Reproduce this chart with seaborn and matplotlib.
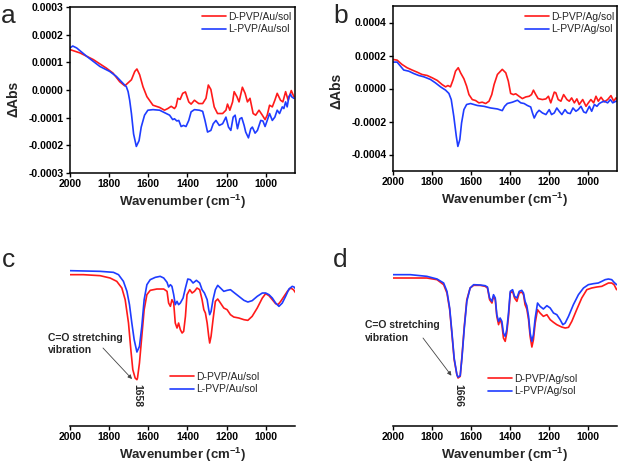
import numpy as np
import pandas as pd
import matplotlib
matplotlib.use("Agg")
import matplotlib.pyplot as plt
import seaborn as sns

# ---------------- data ----------------
# panel a (dAbs, x1e-4)
wn_a_d = [2000,1949,1881,1814,1780,1746,1720,1686,1669,1658,1644,1627,1607,1576,1542,1517,1500,1483,1466,1458,
          1449,1437,1424,1410,1393,1381,1364,1342,1322,1305,1293,1280,1263,1246,1220,1203,1195,1183,1169,1161,
          1147,1136,1119,1105,1093,1080,1064,1051,1034,1017,1003,992,980,966,953,941,924,912,898,885,869,856]
abs_a_d = [1.46,1.34,1.10,0.79,0.61,0.30,0.15,0.37,0.67,0.76,0.55,0.12,-0.24,-0.55,-0.63,-0.73,-0.67,-0.59,-0.67,-0.59,
           -0.30,-0.34,-0.12,-0.07,-0.43,-0.51,-0.37,-0.49,-0.49,-0.30,0.18,0.02,-0.61,-0.85,-0.85,-0.73,-0.51,-0.73,-0.43,-0.06,
           -0.24,-0.43,0.10,-0.12,-0.43,-0.30,-0.85,-0.91,-0.73,-0.91,-1.07,-0.91,-0.55,-0.61,-0.37,-0.12,-0.37,-0.43,-0.06,-0.37,-0.02,-0.24]
wn_a_l = [2000,1986,1966,1915,1847,1797,1763,1729,1712,1703,1695,1686,1675,1661,1647,1636,1619,1602,1576,1542,
          1525,1508,1491,1475,1466,1454,1444,1432,1420,1407,1393,1381,1364,1339,1322,1310,1297,1280,1268,1254,
          1237,1220,1203,1190,1178,1166,1156,1144,1132,1122,1110,1102,1088,1076,1068,1054,1042,1025,1014,1003,
          992,980,966,953,941,929,915,907,898,890,881,873,868,856]
abs_a_l = [1.52,1.59,1.52,1.22,0.85,0.67,0.49,0.24,0.12,-0.06,-0.37,-0.85,-1.59,-2.04,-1.83,-1.34,-0.91,-0.73,-0.71,-0.73,
           -0.79,-0.85,-0.91,-1.07,-1.04,-1.12,-1.10,-1.32,-1.28,-1.32,-1.10,-0.79,-0.71,-0.73,-0.77,-1.10,-1.52,-1.46,-1.22,-1.10,
           -1.28,-1.22,-0.98,-1.34,-1.46,-0.98,-0.91,-1.40,-1.04,-1.00,-1.28,-1.52,-1.73,-1.40,-1.34,-1.56,-1.46,-1.10,-1.12,-1.32,
           -1.10,-0.85,-1.10,-0.98,-0.73,-0.85,-0.61,-0.67,-0.43,-0.61,-0.24,-0.15,-0.24,-0.30]

# panel b (dAbs, x1e-4)
wn_b_d = [2000,1979,1954,1928,1902,1876,1851,1825,1799,1773,1748,1730,1718,1705,1691,1679,1665,1653,1636,1622,
          1610,1593,1576,1559,1542,1524,1507,1493,1481,1464,1439,1421,1408,1396,1382,1370,1353,1336,1318,1301,
          1289,1279,1267,1255,1233,1215,1202,1190,1172,1164,1152,1138,1124,1107,1095,1083,1069,1056,1044,1026,
          1009,997,984,970,958,946,932,915,898,881,867,855,838]
abs_b_d = [1.76,1.72,1.46,1.26,1.12,0.99,0.85,0.79,0.65,0.49,0.24,0.10,0.18,0.10,0.55,1.05,1.26,0.95,0.59,0.14,
           -0.37,-0.67,-0.73,-0.87,-0.83,-0.91,-0.77,-0.37,0.24,0.85,1.16,0.95,0.45,-0.30,-0.37,-0.32,-0.47,-0.61,-0.51,-0.47,
           -0.37,-0.10,-0.37,-0.61,-0.67,-0.63,-0.47,-0.87,-0.22,-0.26,-0.67,-0.77,-0.37,-0.67,-0.77,-0.57,-0.87,-0.63,-0.97,-0.67,
           -1.08,-0.87,-0.67,-0.87,-0.47,-0.77,-0.53,-0.81,-0.67,-0.43,-0.77,-0.57,-0.77]
wn_b_l = [2000,1979,1962,1945,1919,1894,1868,1842,1808,1782,1756,1730,1713,1701,1688,1675,1667,1657,1648,1636,
          1622,1602,1567,1533,1499,1464,1439,1427,1413,1387,1361,1344,1327,1310,1293,1284,1275,1262,1250,1233,
          1215,1198,1186,1172,1159,1147,1133,1117,1104,1090,1076,1061,1049,1035,1021,1009,992,980,966,953,
          941,929,915,898,884,872,855,838]
abs_b_l = [1.60,1.60,1.36,1.12,1.05,0.91,0.79,0.71,0.55,0.34,0.10,-0.10,-0.30,-0.67,-1.68,-2.90,-3.51,-3.10,-2.09,-1.28,
           -0.97,-0.91,-1.03,-1.08,-1.18,-1.24,-1.34,-1.08,-0.91,-0.83,-0.71,-0.87,-0.91,-1.03,-1.12,-1.48,-1.79,-1.48,-1.32,-1.48,
           -1.58,-1.28,-1.58,-1.48,-1.18,-1.38,-1.58,-1.28,-1.48,-1.52,-1.18,-1.38,-1.28,-1.08,-1.42,-1.48,-1.08,-1.38,-0.97,-1.08,
           -0.91,-0.83,-0.77,-0.87,-0.67,-0.87,-0.77,-0.77]

# panel c (transmittance, a.u.)
wn_c_d = [2000,1932,1846,1795,1761,1735,1718,1701,1689,1679,1667,1658,1655,1645,1633,1621,1607,1590,1556,1521,
          1504,1496,1487,1479,1470,1462,1453,1445,1436,1427,1419,1410,1402,1388,1376,1364,1351,1337,1325,1316,
          1308,1299,1291,1286,1279,1269,1257,1245,1231,1214,1197,1180,1163,1137,1111,1091,1069,1043,1017,1000,
          983,966,949,937,923,906,889,872,858,846]
tr_c_d = [4.53,4.53,4.50,4.43,4.33,4.13,3.78,3.08,2.28,1.68,1.43,1.38,1.43,1.88,2.68,3.48,3.93,4.06,4.10,4.10,
          4.03,3.68,3.58,3.78,3.68,3.08,2.93,3.08,2.88,2.78,2.83,3.28,3.93,4.08,3.98,4.03,4.13,4.08,3.78,3.48,
          3.38,3.08,2.68,2.48,2.68,3.18,3.73,3.80,3.68,3.53,3.48,3.33,3.26,3.23,3.18,3.16,3.28,3.53,3.83,3.96,
          3.90,3.78,3.66,3.63,3.73,3.88,4.03,4.13,4.08,3.98]
wn_c_l = [2000,1846,1778,1752,1727,1709,1696,1684,1672,1658,1645,1633,1621,1607,1590,1564,1539,1521,1504,1496,
          1487,1479,1470,1462,1453,1445,1436,1422,1410,1398,1385,1371,1354,1337,1325,1313,1299,1291,1286,1279,
          1269,1257,1245,1231,1214,1197,1180,1163,1137,1111,1091,1069,1043,1017,1000,983,966,949,932,915,
          898,881,864,855,846]
tr_c_l = [4.65,4.63,4.60,4.53,4.33,4.03,3.63,3.08,2.58,2.21,2.38,2.98,3.78,4.23,4.38,4.45,4.48,4.43,4.30,4.16,
          4.23,4.18,3.93,3.63,3.73,3.63,3.68,3.83,4.13,4.40,4.38,4.28,4.36,4.28,4.08,3.98,3.78,3.48,3.33,3.43,
          3.78,4.08,4.21,4.13,4.03,4.06,4.08,4.00,3.88,3.76,3.71,3.75,3.88,3.98,3.98,3.93,3.83,3.68,3.58,3.68,
          3.88,4.10,4.18,4.16,4.10]

# panel d (transmittance, a.u.)
wn_d_d = [2000,1911,1826,1774,1740,1723,1709,1698,1686,1672,1666,1655,1646,1634,1621,1604,1586,1552,1527,1515,
          1504,1492,1484,1475,1467,1458,1450,1441,1433,1424,1416,1407,1398,1386,1376,1364,1352,1339,1330,1322,
          1313,1304,1296,1287,1279,1270,1258,1245,1228,1210,1193,1176,1159,1134,1116,1099,1082,1057,1031,1005,
          980,954,928,911,894,877,865,852]
tr_d_d = [4.43,4.43,4.43,4.38,4.23,3.98,3.48,2.78,1.98,1.53,1.43,1.48,2.08,2.98,3.78,4.13,4.21,4.21,4.18,4.13,
          3.78,3.68,3.88,3.78,3.28,3.03,3.20,3.03,2.63,2.53,2.78,3.28,3.98,4.03,3.83,3.73,3.98,4.01,3.93,3.63,
          3.50,3.18,2.68,2.36,2.58,3.08,3.48,3.38,3.28,3.33,3.18,3.10,3.03,2.96,2.93,2.95,3.13,3.48,3.83,4.08,
          4.13,4.16,4.18,4.23,4.28,4.28,4.23,4.08]
wn_d_l = [2000,1911,1826,1774,1740,1723,1709,1698,1686,1672,1666,1655,1646,1634,1621,1604,1586,1552,1527,1515,
          1504,1492,1484,1475,1467,1458,1450,1441,1433,1424,1416,1407,1398,1386,1376,1364,1352,1339,1330,1322,
          1313,1304,1296,1287,1279,1270,1258,1245,1228,1210,1193,1176,1159,1142,1128,1116,1099,1074,1048,1022,
          997,971,946,928,911,894,877,865,852]
tr_d_l = [4.53,4.53,4.48,4.40,4.28,4.03,3.53,2.83,2.03,1.53,1.46,1.50,2.03,2.93,3.73,4.13,4.23,4.22,4.20,4.16,
          3.83,3.73,3.93,3.83,3.33,3.13,3.23,3.13,2.78,2.68,2.88,3.38,4.03,4.08,3.88,3.83,4.03,4.06,3.98,3.73,
          3.60,3.28,2.78,2.53,2.73,3.23,3.68,3.58,3.50,3.60,3.53,3.38,3.33,3.18,3.03,3.08,3.28,3.63,3.93,4.13,
          4.23,4.26,4.28,4.33,4.38,4.40,4.38,4.30,4.23]

labels_au = ["D-PVP/Au/sol", "L-PVP/Au/sol"]
labels_ag = ["D-PVP/Ag/sol", "L-PVP/Ag/sol"]
x_ticks = [2000, 1800, 1600, 1400, 1200, 1000]
y_ticks_a = [-0.0003, -0.0002, -0.0001, 0.0, 0.0001, 0.0002, 0.0003]
y_ticks_b = [-0.0004, -0.0002, 0.0, 0.0002, 0.0004]
peak_c = 1658
peak_d = 1666

# ---------------- style ----------------
sns.set_theme(style="ticks")
plt.rcParams['font.family'] = ['Liberation Sans', 'DejaVu Sans']
plt.rcParams['mathtext.fontset'] = 'custom'
plt.rcParams['mathtext.rm'] = 'Liberation Sans'
plt.rcParams['mathtext.bf'] = 'Liberation Sans:bold'
plt.rcParams['axes.linewidth'] = 1.1

RED = '#ff1a1a'
BLUE = '#1f3cff'
W, H = 620, 466
fig = plt.figure(figsize=(6.2, 4.66), dpi=100)

def frac(x, y):
    return x / W, 1 - y / H

def make_df(w1, v1, w2, v2, labs, scale=1.0):
    return pd.DataFrame({
        'wn': list(w1) + list(w2),
        'val': [v * scale for v in v1] + [v * scale for v in v2],
        'sample': [labs[0]] * len(w1) + [labs[1]] * len(w2),
    })

ax_a = fig.add_axes([70 / W, 1 - 173 / H, 225 / W, 166 / H])
ax_b = fig.add_axes([393 / W, 1 - 171 / H, 224 / W, 165 / H])
ax_c = fig.add_axes([70 / W, 1 - 425.7 / H, 225 / W, 185.7 / H])
ax_d = fig.add_axes([393 / W, 1 - 425.7 / H, 224 / W, 185.7 / H])

panels = [
    (ax_a, make_df(wn_a_d, abs_a_d, wn_a_l, abs_a_l, labels_au, 1e-4), labels_au),
    (ax_b, make_df(wn_b_d, abs_b_d, wn_b_l, abs_b_l, labels_ag, 1e-4), labels_ag),
    (ax_c, make_df(wn_c_d, tr_c_d, wn_c_l, tr_c_l, labels_au), labels_au),
    (ax_d, make_df(wn_d_d, tr_d_d, wn_d_l, tr_d_l, labels_ag), labels_ag),
]
for ax, df, labs in panels:
    sns.lineplot(data=df, x='wn', y='val', hue='sample', hue_order=labs,
                 palette=[RED, BLUE], estimator=None, sort=False,
                 linewidth=1.2, ax=ax, legend=False)
    ax.set_xlim(2000, 850)
    ax.set_xticks(x_ticks)
    ax.set_xticklabels([str(t) for t in x_ticks])
    ax.tick_params(axis='both', labelsize=7.5, length=3, width=1.0, pad=1.5, colors='black')
    for lab in ax.get_xticklabels() + ax.get_yticklabels():
        lab.set_fontweight('bold')
    ax.set_xlabel(r'Wavenumber (cm$^{\mathbf{-1}}$)', fontsize=9.5, fontweight='bold', labelpad=2.5)
    ax.set_ylabel('')

# a, b boxed
ax_a.set_ylim(-0.0003, 0.0003)
ax_a.set_yticks(y_ticks_a)
ax_a.set_yticklabels(['%.4f' % abs(t) if t == 0 else '%.4f' % t for t in y_ticks_a], fontweight='bold')
ax_b.set_ylim(-0.0005, 0.0005)
ax_b.set_yticks(y_ticks_b)
ax_b.set_yticklabels(['%.4f' % abs(t) if t == 0 else '%.4f' % t for t in y_ticks_b], fontweight='bold')
for ax in (ax_a, ax_b):
    for s in ax.spines.values():
        s.set_visible(True)
        s.set_color('black')
        s.set_linewidth(1.1)
    ax.set_ylabel('ΔAbs', fontsize=10, fontweight='bold')
ax_a.yaxis.set_label_coords(-0.218, 0.446)
ax_b.yaxis.set_label_coords(-0.223, 0.485)

# c, d: only bottom axis
for ax in (ax_c, ax_d):
    ax.set_ylim(0, 5.57)
    ax.set_yticks([])
    for k in ('left', 'right', 'top'):
        ax.spines[k].set_visible(False)
    ax.spines['bottom'].set_color('black')
    ax.patch.set_alpha(0)

# legends
from matplotlib.lines import Line2D
def add_legend(ax, labs, x, y):
    handles = [Line2D([], [], color=RED, lw=1.2), Line2D([], [], color=BLUE, lw=1.2)]
    ax.legend(handles, labs, loc='upper left', bbox_to_anchor=frac(x, y),
              bbox_transform=fig.transFigure, frameon=False, fontsize=7.5,
              handlelength=2.3, handletextpad=0.25, labelspacing=0.22,
              borderpad=0, borderaxespad=0)
add_legend(ax_a, labels_au, 202, 12)
add_legend(ax_b, labels_ag, 525, 12)
add_legend(ax_c, labels_au, 170, 372)
add_legend(ax_d, labels_ag, 488, 374)

# panel letters
for letter, (x, y) in zip('abcd', [(1, 23), (333, 23), (2, 267), (333, 267)]):
    fig.text(*frac(x, y), letter, fontsize=19, va='baseline', ha='left')

# annotations
arrow_kw = dict(arrowstyle='-|>', color='#444444', lw=0.6, mutation_scale=6, shrinkA=0, shrinkB=0)
fig.text(*frac(48, 341), 'C=O stretching', fontsize=7.5, fontweight='bold')
fig.text(*frac(48, 353), 'vibration', fontsize=7.5, fontweight='bold')
ax_c.annotate('', xy=(1683, 1.40), xycoords='data', xytext=frac(103, 348),
              textcoords='figure fraction', arrowprops=arrow_kw)
ax_c.text(peak_c, 1.25, str(peak_c), rotation=-90, ha='center', va='top',
          fontsize=7.5, fontweight='bold')

fig.text(*frac(365, 328), 'C=O stretching', fontsize=7.5, fontweight='bold')
fig.text(*frac(365, 341), 'vibration', fontsize=7.5, fontweight='bold')
ax_d.annotate('', xy=(1700, 1.50), xycoords='data', xytext=frac(423, 338),
              textcoords='figure fraction', arrowprops=arrow_kw)
ax_d.text(peak_d, 1.25, str(peak_d), rotation=-90, ha='center', va='top',
          fontsize=7.5, fontweight='bold')

fig.savefig('out.png', dpi=100)
